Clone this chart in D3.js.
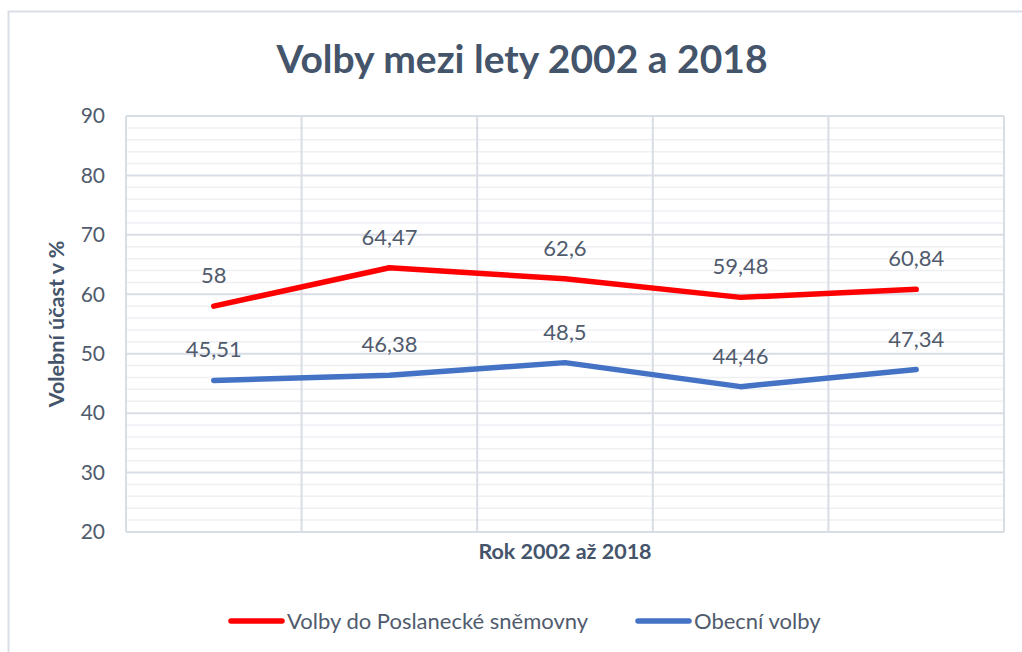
<!DOCTYPE html>
<html><head><meta charset="utf-8">
<script src="https://cdn.jsdelivr.net/npm/d3@7"></script>
<style>body{margin:0;background:#fff;} svg{display:block;} text{font-family:Lato,"Open Sans",sans-serif;}</style>
</head><body>
<script>
const categories = ["2002", "2006", "2010", "2014", "2018"];
const poslanecka = [58, 64.47, 62.6, 59.48, 60.84];
const obecni = [45.51, 46.38, 48.5, 44.46, 47.34];
const yTicks = [20, 30, 40, 50, 60, 70, 80, 90];
const seriesNames = ["Volby do Poslanecké sněmovny", "Obecní volby"];
const seriesColors = ["#FF0000", "#4472C4"];

const W = 1022, H = 652;
const svg = d3.select("body").append("svg").attr("width", W).attr("height", H);
svg.append("rect").attr("x", 8.5).attr("y", 11.5).attr("width", 1040).attr("height", 700)
  .attr("fill", "#fff").attr("stroke", "#D9DEE6").attr("stroke-width", 2);

const m = {left: 126, top: 116, right: 1004, bottom: 532};
const x = d3.scaleBand().domain(categories).range([m.left, m.right]);
const y = d3.scaleLinear().domain([20, 90]).range([m.bottom, m.top]);

// minor gridlines
const minor = d3.range(20, 91, 2).filter(v => v % 10 !== 0);
svg.append("g").selectAll("line").data(minor).join("line")
  .attr("x1", m.left).attr("x2", m.right).attr("y1", d => y(d)).attr("y2", d => y(d))
  .attr("stroke", "#EEF0F4").attr("stroke-width", 1.5);
// major gridlines
svg.append("g").selectAll("line").data(yTicks).join("line")
  .attr("x1", m.left).attr("x2", m.right).attr("y1", d => y(d)).attr("y2", d => y(d))
  .attr("stroke", "#D9DDE5").attr("stroke-width", 2);
// vertical gridlines
const bounds = categories.map(c => x(c)).concat([m.right]);
svg.append("g").selectAll("line").data(bounds).join("line")
  .attr("x1", d => d).attr("x2", d => d).attr("y1", m.top).attr("y2", m.bottom)
  .attr("stroke", "#D9DDE5").attr("stroke-width", 2);

// y axis labels
const yAxis = d3.axisLeft(y).tickValues(yTicks).tickSize(0).tickPadding(0);
const gy = svg.append("g").attr("transform", `translate(${m.left - 21},0)`).call(yAxis);
gy.select(".domain").remove();
gy.selectAll("text").attr("font-size", 21).attr("fill", "#505B6D").attr("font-family", "Lato,'Open Sans',sans-serif");

// titles
svg.append("text").attr("x", 522).attr("y", 73).attr("text-anchor", "middle")
  .attr("font-size", 39).attr("font-weight", "bold").attr("fill", "#44546A").text("Volby mezi lety 2002 a 2018");
svg.append("text").attr("transform", "translate(64,324) rotate(-90)").attr("text-anchor", "middle")
  .attr("font-size", 21.5).attr("font-weight", "bold").attr("fill", "#44546A").text("Volební účast v %");
svg.append("text").attr("x", 565).attr("y", 559).attr("text-anchor", "middle")
  .attr("font-size", 21.5).attr("font-weight", "bold").attr("fill", "#44546A").text("Rok 2002 až 2018");

// lines
const cx = c => x(c) + x.bandwidth() / 2;
[poslanecka, obecni].forEach((vals, i) => {
  const line = d3.line().x((d, j) => cx(categories[j])).y(d => y(d));
  svg.append("path").datum(vals).attr("d", line).attr("fill", "none")
    .attr("stroke", seriesColors[i]).attr("stroke-width", 5.5)
    .attr("stroke-linecap", "round").attr("stroke-linejoin", "round");
  svg.append("g").selectAll("text").data(vals).join("text")
    .attr("x", (d, j) => cx(categories[j])).attr("y", d => y(d) - 23)
    .attr("text-anchor", "middle").attr("font-size", 22).attr("fill", "#505B6D")
    .text(d => String(d).replace(".", ","));
});

// legend
const legend = [{x1: 231, x2: 282, tx: 287}, {x1: 638, x2: 689, tx: 694}];
legend.forEach((l, i) => {
  svg.append("line").attr("x1", l.x1).attr("x2", l.x2).attr("y1", 621).attr("y2", 621)
    .attr("stroke", seriesColors[i]).attr("stroke-width", 5.5).attr("stroke-linecap", "round");
  svg.append("text").attr("x", l.tx).attr("y", 629).attr("font-size", 22).attr("fill", "#505B6D").text(seriesNames[i]);
});
</script>
</body></html>
